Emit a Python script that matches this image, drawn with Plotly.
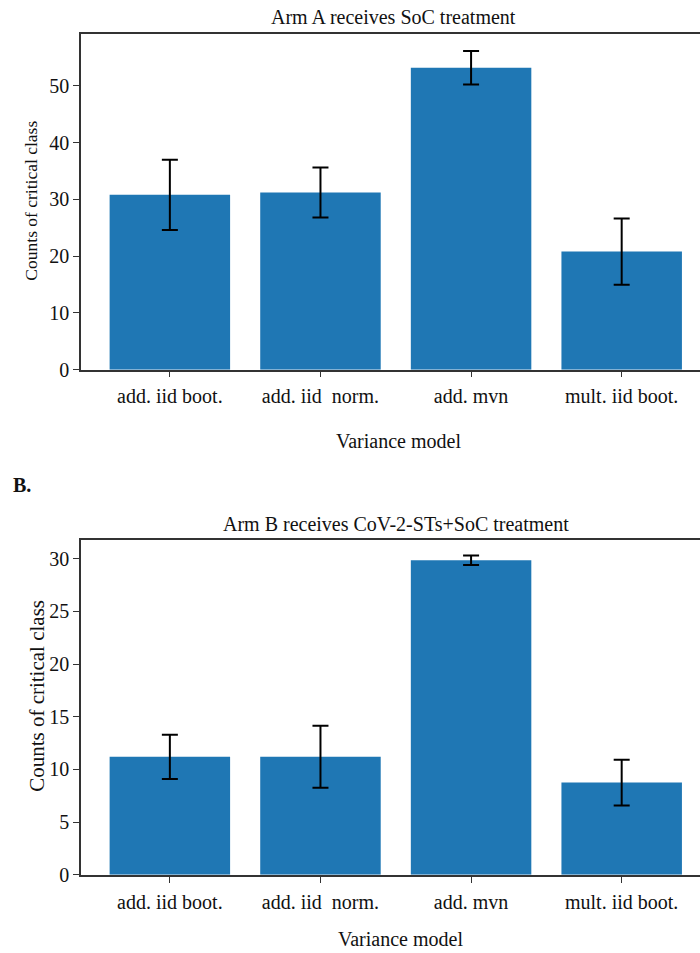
import plotly.graph_objects as go

categories = ["add. iid boot.", "add. iid\u00a0 norm.", "add. mvn", "mult. iid boot."]
arm_a_means = [30.8, 31.2, 53.2, 20.8]
arm_a_errors = [6.2, 4.4, 2.95, 5.85]
arm_b_means = [11.2, 11.2, 29.85, 8.75]
arm_b_errors = [2.1, 2.95, 0.45, 2.17]

W, H = 700, 953
FONT = "Liberation Serif"
BAR_COLOR = "#1f77b4"
SPINE = "#333333"


def py(p):
    return 1 - p / H


def px(p):
    return p / W


fig = go.Figure()
fig.add_trace(go.Bar(
    x=categories, y=arm_a_means, marker_color=BAR_COLOR, width=0.8,
    marker_line_width=0,
    error_y=dict(type="data", array=arm_a_errors, color="black", thickness=2, width=8),
    xaxis="x", yaxis="y", showlegend=False))
fig.add_trace(go.Bar(
    x=categories, y=arm_b_means, marker_color=BAR_COLOR, width=0.8,
    marker_line_width=0,
    error_y=dict(type="data", array=arm_b_errors, color="black", thickness=2, width=8),
    xaxis="x2", yaxis="y2", showlegend=False))

xcommon = dict(
    type="category", range=[-0.59, 3.52], domain=[px(81), 1.0],
    showline=True, linecolor=SPINE, linewidth=1.5, mirror=True,
    ticks="outside", ticklen=6, tickwidth=1.2, tickcolor=SPINE,
    ticklabelstandoff=2,
    showgrid=False, zeroline=False,
    tickfont=dict(family=FONT, size=20, color="#111"),
)
ycommon = dict(
    showline=True, linecolor=SPINE, linewidth=1.5,
    ticks="outside", ticklen=6, tickwidth=1.2, tickcolor=SPINE,
    showgrid=False, zeroline=False,
    tickfont=dict(family=FONT, size=20, color="#111"),
)

fig.update_layout(
    width=W, height=H,
    margin=dict(l=0, r=0, t=0, b=0),
    paper_bgcolor="white", plot_bgcolor="white",
    bargap=0.2,
    xaxis=dict(**xcommon, anchor="y"),
    yaxis=dict(**ycommon, range=[0, 59.2], dtick=10, anchor="x",
               domain=[py(374), py(34)]),
    xaxis2=dict(**xcommon, anchor="y2"),
    yaxis2=dict(**ycommon, range=[0, 31.8], dtick=5, anchor="x2",
                domain=[py(885), py(546)]),
)

ann = [
    dict(text="Arm A receives SoC treatment", x=px(393), y=py(17), size=20),
    dict(text="Arm B receives CoV-2-STs+SoC treatment", x=px(396), y=py(530), size=20),
    dict(text="Variance model", x=px(399), y=py(446), size=20),
    dict(text="Variance model", x=px(400), y=py(950), size=20),
    dict(text="Counts of critical class", x=px(31), y=py(203), size=17.5, angle=-90),
    dict(text="Counts of critical class", x=px(37), y=py(704), size=21, angle=-90),
]
for a in ann:
    fig.add_annotation(
        text=a["text"], x=a["x"], y=a["y"], xref="paper", yref="paper",
        xanchor="center", yanchor="middle", showarrow=False,
        textangle=a.get("angle", 0),
        font=dict(family=FONT, size=a["size"], color="#111"))

fig.add_annotation(
    text="<b>B.</b>", x=px(11), y=py(491), xref="paper", yref="paper",
    xanchor="left", yanchor="middle", showarrow=False,
    font=dict(family=FONT, size=20, color="#111"))

fig.write_html("out.html")
